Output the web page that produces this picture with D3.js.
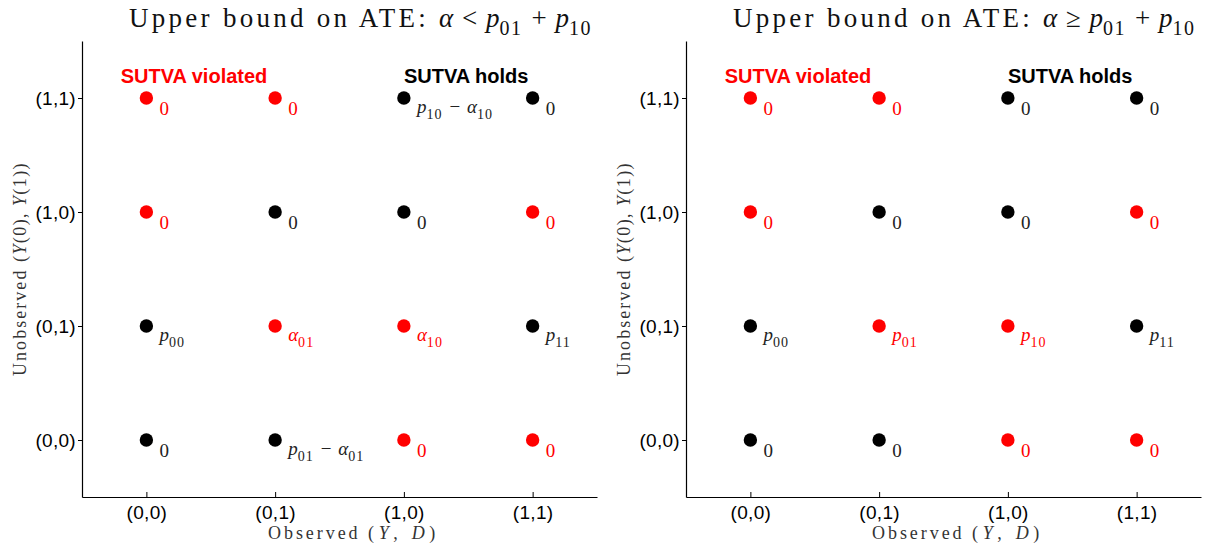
<!DOCTYPE html>
<html>
<head>
<meta charset="utf-8">
<script src="https://cdn.jsdelivr.net/npm/d3@7"></script>
<style>
  body { margin: 0; background: #fff; }
  text { white-space: pre; }
</style>
</head>
<body>
<div class="canvas"></div>
<script>
// observed (Y, D) on x, unobserved (Y(0), Y(1)) on y
const categories = ['(0,0)', '(0,1)', '(1,0)', '(1,1)'];

// rows go from (0,0) up to (1,1), columns are the observed categories
const violated = [
  [false, false, true, true],
  [false, true, true, false],
  [true, false, false, true],
  [true, true, false, false]
];

const labelsLeft = [
  ['0', 'p_{01} − α_{01}', '0', '0'],
  ['p_{00}', 'α_{01}', 'α_{10}', 'p_{11}'],
  ['0', '0', '0', '0'],
  ['0', '0', 'p_{10} − α_{10}', '0']
];

const labelsRight = [
  ['0', '0', '0', '0'],
  ['p_{00}', 'p_{01}', 'p_{10}', 'p_{11}'],
  ['0', '0', '0', '0'],
  ['0', '0', '0', '0']
];

const titleLeft = 'α < p_{01} + p_{10}';
const titleRight = 'α ≥ p_{01} + p_{10}';

const RED = '#ff0000';
const SERIF = '"Liberation Serif", "DejaVu Serif", serif';
const SANS = '"Liberation Sans", Arial, sans-serif';

const svg = d3.select('.canvas')
  .append('svg')
  .attr('width', 1208)
  .attr('height', 554);

// writes a little tex-like string (x_{sub}) as tspans, returns them
const addMath = (text, str, size) => {
  const re = /_\{([^}]*)\}|([^_]+)/g;
  const spans = [];
  let m, shift = 0;
  while ((m = re.exec(str))) {
    if (m[1] !== undefined) {
      const down = size * 0.3;
      spans.push(text.append('tspan')
        .attr('font-size', size * 0.74)
        .attr('font-style', 'normal')
        .attr('letter-spacing', size * 0.06)
        .attr('dy', down - shift)
        .text(m[1]));
      shift = down;
    } else {
      const parts = m[2].match(/[A-Za-zα-ω]+|[^A-Za-zα-ω]+/g);
      parts.forEach(p => {
        const t = text.append('tspan')
          .attr('font-size', size)
          .attr('font-style', /[A-Za-zα-ω]/.test(p) ? 'italic' : 'normal')
          .text(p);
        if (shift) { t.attr('dy', -shift); shift = 0; }
        spans.push(t);
      });
    }
  }
  return spans;
};

// spread letters of some tspans so together they take the given width
const fitLetters = (spans, width) => {
  spans = [].concat(spans);
  spans.forEach(s => s.attr('letter-spacing', 0));
  const n = d3.sum(spans, s => s.text().length);
  const w = d3.sum(spans, s => s.node().getComputedTextLength());
  spans.forEach(s => s.attr('letter-spacing', (width - w) / n));
};

const drawPanel = (left, labels, title) => {
  const x = d3.scaleLinear().domain([-0.5, 3.5]).range([left, left + 515]);
  const y = d3.scaleLinear().domain([-0.5, 3.5]).range([497, 41]);

  const g = svg.append('g');

  // axes: bottom ticks point inward, left ticks point outward
  const xAxis = d3.axisBottom(x)
    .tickValues([0, 1, 2, 3])
    .tickFormat(i => categories[i])
    .tickSizeInner(-5)
    .tickSizeOuter(0)
    .tickPadding(9);
  const yAxis = d3.axisLeft(y)
    .tickValues([0, 1, 2, 3])
    .tickFormat(i => categories[i])
    .tickSizeInner(4)
    .tickSizeOuter(0)
    .tickPadding(2);

  const xg = g.append('g').attr('transform', `translate(0, ${y(-0.5)})`).call(xAxis);
  const yg = g.append('g').attr('transform', `translate(${x(-0.5)}, 0)`).call(yAxis);
  [xg, yg].forEach(a => {
    a.select('.domain').attr('stroke', '#000').attr('stroke-width', 1.2);
    a.selectAll('.tick line').attr('stroke', '#000');
    a.selectAll('.tick text')
      .attr('font-family', SANS)
      .attr('font-size', 19)
      .attr('letter-spacing', 0.3)
      .attr('fill', '#000');
  });

  // points + their masses
  const cells = [];
  labels.forEach((row, r) => row.forEach((lab, c) => {
    cells.push({ r, c, lab, bad: violated[r][c] });
  }));

  g.selectAll('circle')
    .data(cells)
    .enter()
    .append('circle')
    .attr('cx', d => x(d.c))
    .attr('cy', d => y(d.r))
    .attr('r', 6.7)
    .attr('fill', d => d.bad ? RED : '#000');

  g.selectAll('.lab')
    .data(cells)
    .enter()
    .append('text')
    .attr('class', 'lab')
    .attr('x', d => x(d.c) + 13)
    .attr('y', d => y(d.r) + (d.lab === '0' ? 17 : 15))
    .attr('font-family', SERIF)
    .attr('word-spacing', 2)
    .attr('fill', d => d.bad ? RED : '#222')
    .each(function (d) { addMath(d3.select(this), d.lab, 19); });

  g.append('text')
    .attr('x', x(-0.2))
    .attr('y', y(3.13))
    .attr('font-family', SANS)
    .attr('font-weight', 'bold')
    .attr('font-size', 20)
    .attr('fill', RED)
    .text('SUTVA violated');
  g.append('text')
    .attr('x', x(2))
    .attr('y', y(3.13))
    .attr('font-family', SANS)
    .attr('font-weight', 'bold')
    .attr('font-size', 20)
    .attr('fill', '#000')
    .text('SUTVA holds');

  // title: spaced words, then the math with roomier operator gaps
  const t = g.append('text')
    .attr('x', left + 47)
    .attr('y', 27)
    .attr('font-family', SERIF)
    .attr('word-spacing', 2)
    .attr('fill', '#111');
  const words = t.append('tspan').attr('font-size', 27).attr('word-spacing', 0).text('Upper bound on ATE: ');
  fitLetters(words, 310);
  addMath(t, title, 27);

  // axis labels
  const xl = g.append('text')
    .attr('x', left + 186)
    .attr('y', 539)
    .attr('font-family', SERIF)
    .attr('fill', '#333');
  const ow = xl.append('tspan').attr('font-size', 18).text('Observed ');
  fitLetters(ow, 100);
  fitLetters(addMath(xl, '(Y, D)', 18), 72);

  const yl = g.append('text')
    .attr('transform', `translate(${left - 56}, ${y(1.5) + 107}) rotate(-90)`)
    .attr('font-family', SERIF)
    .attr('fill', '#333');
  const uw = yl.append('tspan').attr('font-size', 18).text('Unobserved ');
  fitLetters(uw, 114);
  fitLetters(addMath(yl, '(Y(0), Y(1))', 18), 100);
};

drawPanel(82, labelsLeft, titleLeft);
drawPanel(686, labelsRight, titleRight);
</script>
</body>
</html>
